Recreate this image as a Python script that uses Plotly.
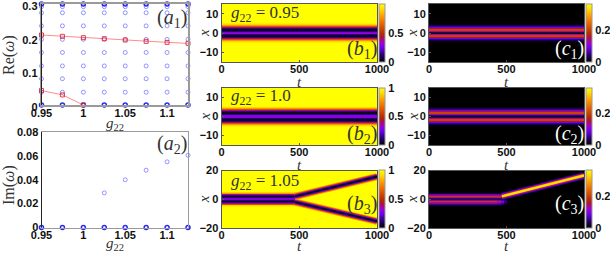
import plotly.graph_objects as go

W, H = 610, 253

# ---------- data ----------
g22_values = [0.95, 0.975, 1.0, 1.025, 1.05, 1.075, 1.1, 1.125]
re_rows = [0.038, 0.078, 0.116, 0.156, 0.195, 0.235, 0.274, 0.292]
re_zero = [0, 0, 0, 0, 0, 0, 0, 0]
re_top = [0.3, 0.3, 0.3, 0.3, 0.3, 0.3, 0.3, 0.3]
re_upper_branch = [0.208, 0.204, 0.200, 0.197, 0.193, 0.189, 0.186, 0.183]
g22_lower_branch = [0.95, 0.975, 1.0]
re_lower_branch = [0.043, 0.030, 0.0]
g22_im = [1.025, 1.05, 1.075, 1.1, 1.125]
im_values = [0.029, 0.040, 0.048, 0.055, 0.0605]
im_zero = [0, 0, 0, 0, 0, 0, 0, 0]

# density across x, centre outwards, one value each 0.5 in x
b_half = [0.32, 0.27, 0.13, 0.03, 0.03, 0.14, 0.38, 0.60, 0.78, 0.90, 0.96, 0.99]
c_half = [0.015, 0.04, 0.13, 0.20, 0.20, 0.15, 0.09, 0.05, 0.025, 0.01, 0.003, 0.0]

# tracks after the split in panels (b3) and (c3)
t_split = [470, 1000]
b3_upper = [1.9, 15.8]
b3_lower = [-1.9, -15.3]
c3_track = [2.0, 16.5]
c3_lower_fade = [1.0, 0.85, 0.55, 0.25, 0.07]
c3_fade_edges = [0, 440, 465, 485, 505, 525]

colorscale = [
    [0.00, "#000000"], [0.10, "#200060"], [0.25, "#7000f0"], [0.33, "#a000d0"],
    [0.42, "#b01040"], [0.50, "#b83000"], [0.65, "#e86000"], [0.80, "#ffa000"],
    [0.92, "#ffe000"], [1.00, "#ffff00"],
]
b_layers = [("#ff9000", 7.0), ("#c83000", 5.2), ("#8000f0", 3.8), ("#300090", 2.6), ("#000000", 1.2)]
c_layers = [("#300090", 7.0), ("#8000f0", 5.4), ("#b01040", 4.0), ("#ff8000", 3.0), ("#ffe800", 2.0)]

# ---------- helpers ----------
fig = go.Figure()
layout = {}
shapes = []
annots = []
TICK = dict(family="Liberation Sans", size=11, color="#111111", weight="bold")
GREY = "#9a9a9a"
DARK = "#555555"
count = [0]


def add_axes(x0, x1, y0, y1, xr, yr, xt, xl, yt, yl, lc=DARK, lw=1, tl=0, yshift=0):
    count[0] += 1
    n = count[0]
    s = "" if n == 1 else str(n)
    ticks = "inside" if tl else ""
    layout[f"xaxis{s}"] = dict(
        domain=[x0 / W, x1 / W], range=xr, anchor=f"y{s}", tickvals=xt, ticktext=xl,
        tickfont=TICK, showgrid=False, zeroline=False, showline=True, linecolor=lc,
        linewidth=lw, mirror=True, ticks=ticks, ticklen=tl, tickcolor=DARK, tickwidth=1,
        ticklabelstandoff=-3, ticklabeloverflow="allow", layer="above traces")
    layout[f"yaxis{s}"] = dict(
        domain=[1 - y1 / H, 1 - y0 / H], range=yr, anchor=f"x{s}", tickvals=yt, ticktext=yl,
        tickfont=TICK, showgrid=False, zeroline=False, showline=True, linecolor=lc,
        linewidth=lw, mirror=True, ticks=ticks, ticklen=tl, tickcolor=DARK, tickwidth=1,
        ticklabelstandoff=0, ticklabelshift=yshift, ticklabeloverflow="allow", layer="above traces")
    return f"x{s}", f"y{s}"


def text(x, y, s, size=16, color="#333333", angle=0, family="Liberation Serif"):
    annots.append(dict(x=x / W, y=1 - y / H, xref="paper", yref="paper", text=s, showarrow=False,
                       font=dict(family=family, size=size, color=color), textangle=angle,
                       xanchor="center", yanchor="middle"))


def full_band(half, n_rows, pad):
    mirrored = half[::-1] + half[1:]
    extra = (n_rows - len(mirrored)) // 2
    return [pad] * extra + mirrored + [pad] * extra


def rows(limit):
    n = int(limit * 4 + 1)
    return [-limit + i * 0.5 for i in range(n)]


def colorbar(px0, py0, py1, tickvals, ticktext):
    return dict(x=px0 / W, xanchor="left", y=1 - py1 / H, yanchor="bottom", len=py1 - py0,
                lenmode="pixels", thickness=6, thicknessmode="pixels", xpad=0, ypad=0,
                outlinecolor=GREY, outlinewidth=1, tickvals=tickvals, ticktext=ticktext,
                tickfont=TICK, ticks="", ticklabelposition="outside")


# ---------- (a1) ----------
xa, ya = add_axes(41.5, 188, 4, 105, [0.95, 1.125], [0, 0.3], [0.95, 1, 1.05, 1.1],
                  ["0.95", "1", "1.05", "1.1"], [0, 0.1, 0.2, 0.3], ["0", "0.1", "0.2", "0.3"], GREY, 1.5,
                  yshift=2)
BLUE = "rgba(50,50,255,0.5)"
for row in re_rows:
    fig.add_trace(go.Scatter(x=g22_values, y=[row] * len(g22_values), xaxis=xa, yaxis=ya, mode="markers",
                             cliponaxis=False, showlegend=False,
                             marker=dict(symbol="circle-open", size=4, color=BLUE, line=dict(width=1))))
for arr in (re_zero, re_top):
    fig.add_trace(go.Scatter(x=g22_values, y=arr, xaxis=xa, yaxis=ya, mode="markers", cliponaxis=False,
                             showlegend=False,
                             marker=dict(symbol="circle-open", size=4, color="rgba(30,30,240,0.95)",
                                         line=dict(width=1.5))))
for xs, ys in ((g22_values, re_upper_branch), (g22_lower_branch, re_lower_branch)):
    fig.add_trace(go.Scatter(x=xs, y=ys, xaxis=xa, yaxis=ya, mode="lines+markers", cliponaxis=False,
                             showlegend=False, line=dict(color="rgba(255,90,90,0.7)", width=1),
                             marker=dict(symbol="square-open", size=4, color="rgba(225,30,50,0.85)",
                                         line=dict(width=1))))
shapes.append(dict(type="line", xref="paper", yref="paper", x0=41.5 / W, x1=41.5 / W, y0=1 - 105 / H, y1=1 - 4 / H,
                   line=dict(color="#222222", width=1)))
text(172, 18, "(<i>a</i><sub>1</sub>)", 20)
text(9, 55, "Re(<i>ω</i>)", 16, angle=-90)
text(115, 124, "<i>g</i><sub>22</sub>", 15)

# ---------- (a2) ----------
xa, ya = add_axes(41.5, 188, 132, 227.5, [0.95, 1.125], [0, 0.08], [0.95, 1, 1.05, 1.1],
                  ["0.95", "1", "1.05", "1.1"], [0, 0.02, 0.04, 0.06, 0.08],
                  ["0", "0.02", "0.04", "0.06", "0.08"], GREY, 1)
fig.add_trace(go.Scatter(x=g22_im, y=im_values, xaxis=xa, yaxis=ya, mode="markers", cliponaxis=False,
                         showlegend=False, marker=dict(symbol="circle-open", size=4, color=BLUE, line=dict(width=1))))
fig.add_trace(go.Scatter(x=g22_values, y=im_zero, xaxis=xa, yaxis=ya, mode="markers", cliponaxis=False,
                         showlegend=False,
                         marker=dict(symbol="circle-open", size=4, color="rgba(30,30,240,0.95)", line=dict(width=1.5))))
shapes.append(dict(type="line", xref="paper", yref="paper", x0=41.5 / W, x1=41.5 / W, y0=1 - 227.5 / H, y1=1 - 132 / H,
                   line=dict(color="#222222", width=1)))
text(172, 144, "(<i>a</i><sub>2</sub>)", 20)
text(9, 185, "Im(<i>ω</i>)", 16, angle=-90)
text(115, 244, "<i>g</i><sub>22</sub>", 15)

# ---------- heatmap columns ----------
T_TICKS = [0, 500, 1000]
T_TEXT = ["0", "500", "1000"]
Y15 = [10, 0, -10]
Y15T = ["10", "0", "−10"]
Y20 = [20, 0, -20]
Y20T = ["20", "0", "−20"]
ROWS_P = [(4, 62), (88, 145), (170.5, 228)]

col_x = [(221.5, 377, 379, 204, 299), (429, 584, 586, 412, 506)]
labels_t_y = [82, 165, 246]
letters = ["b", "c"]
gtext = ["0.95", "1.0", "1.05"]

for col, (x0, x1, cbx, xlab, tlab) in enumerate(col_x):
    half = b_half if col == 0 else c_half
    pad = 1.0 if col == 0 else 0.0
    zmax = 1.0 if col == 0 else 0.36
    tv = [0, 0.5, 1] if col == 0 else [0, 0.2]
    tt = ["0", "0.5", "1"] if col == 0 else ["0", "0.2"]
    for r, (y0, y1) in enumerate(ROWS_P):
        lim = 20 if r == 2 else 15
        xa, ya = add_axes(x0, x1, y0, y1, [0, 1000], [-lim, lim], T_TICKS, T_TEXT,
                          Y20 if r == 2 else Y15, Y20T if r == 2 else Y15T, tl=2)
        ys = rows(lim)
        band = full_band(half, len(ys), pad)
        common = dict(xaxis=xa, yaxis=ya, colorscale=colorscale, zmin=0, zmax=zmax,
                      colorbar=colorbar(cbx, y0, y1, tv, tt), hoverinfo="skip")
        if r < 2:
            fig.add_trace(go.Heatmap(x=[0, 1000], y=ys, z=[[v] for v in band], **common))
        elif col == 0:
            fig.add_trace(go.Heatmap(x=[0, 490], y=ys, z=[[v] for v in band], **common))
            for track in (b3_upper, b3_lower):
                for color, width in b_layers:
                    fig.add_trace(go.Scatter(x=t_split, y=track, xaxis=xa, yaxis=ya, mode="lines",
                                             showlegend=False, hoverinfo="skip",
                                             line=dict(color=color, width=width)))
            shapes.append(dict(type="rect", xref=f"{xa} domain", yref=f"{ya} domain", x0=0, x1=1, y0=0, y1=1,
                               fillcolor="#ffff00", line=dict(width=0), layer="below"))
        else:
            z = []
            for y, v in zip(ys, band):
                if y > 0:
                    z.append([v] * 3 + [0] * 2)
                else:
                    z.append([v * f for f in c3_lower_fade])
            fig.add_trace(go.Heatmap(x=c3_fade_edges, y=ys, z=z, **common))
            for color, width in c_layers:
                fig.add_trace(go.Scatter(x=t_split, y=c3_track, xaxis=xa, yaxis=ya, mode="lines",
                                         showlegend=False, hoverinfo="skip",
                                         line=dict(color=color, width=width)))
            shapes.append(dict(type="rect", xref=f"{xa} domain", yref=f"{ya} domain", x0=0, x1=1, y0=0, y1=1,
                               fillcolor="#000000", line=dict(width=0), layer="below"))
        text(xlab, (y0 + y1) / 2, "<i>x</i>", 15, angle=-90)
        text(tlab, labels_t_y[r], "<i>t</i>", 15)
        lx = 362 if col == 0 else 569
        ly = [50, 134, 204][r]
        text(lx, ly, f"(<i>{letters[col]}</i><sub>{r+1}</sub>)", 20, "#333333" if col == 0 else "#ffffff")
        if col == 0:
            annots.append(dict(x=229 / W, y=1 - [14, 97, 182][r] / H, xref="paper", yref="paper", showarrow=False,
                               text=f"<i>g</i><sub>22</sub> = {gtext[r]}", xanchor="left", yanchor="middle",
                               font=dict(family="Liberation Serif", size=17, color="#333333")))

fig.update_layout(width=W, height=H, margin=dict(l=0, r=0, t=0, b=0, autoexpand=False), paper_bgcolor="white",
                  plot_bgcolor="white", showlegend=False, shapes=shapes, annotations=annots, **layout)
fig.write_html("out.html", post_script="document.body.style.margin='0';document.body.style.overflow='hidden';",
               config={"displayModeBar": False})
